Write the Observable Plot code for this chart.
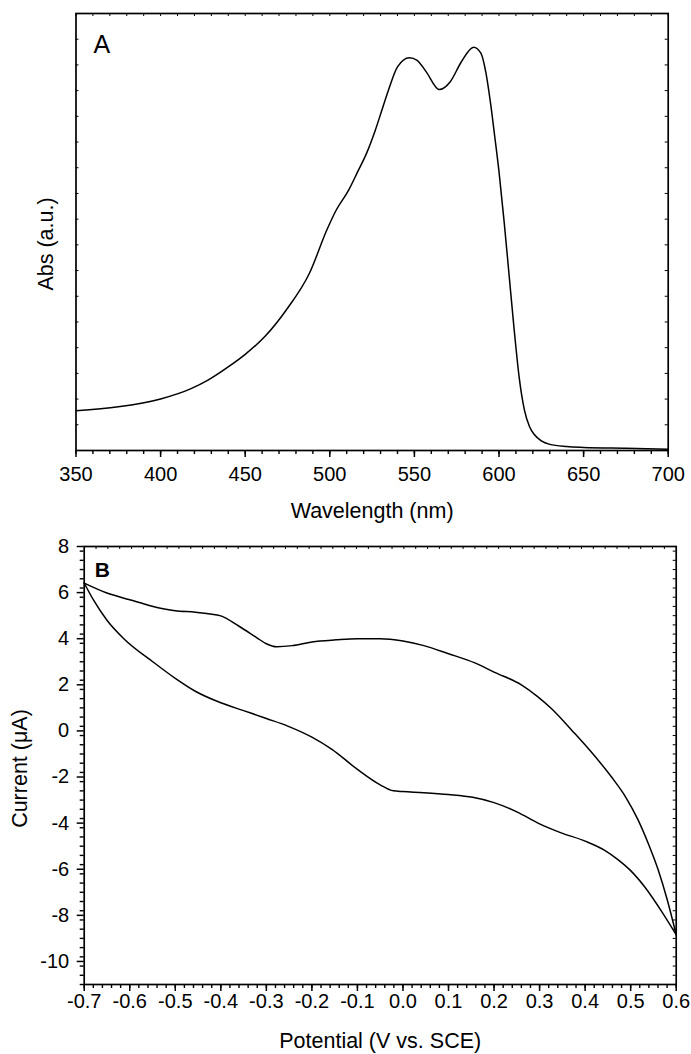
<!DOCTYPE html>
<html><head><meta charset="utf-8">
<script src="https://cdn.jsdelivr.net/npm/d3@7"></script>
<script src="https://cdn.jsdelivr.net/npm/@observablehq/plot@0.6"></script>
<style>
body{margin:0;background:#fff;}
#wrap{position:relative;width:691px;height:1054px;overflow:hidden;}
#wrap svg{position:absolute;left:0;overflow:visible;background:transparent;}
</style></head><body><div id="wrap"></div>
<script>
// Panel A: absorption spectrum
const wavelength = [350,375,400,417.7,428,441,450,461.9,474.9,487.9,498.3,503.5,511.3,516.5,521.7,526.9,530.8,534.7,540,547,551.6,556.9,564.7,571.2,577.7,585,589.2,592.2,595.1,597.5,600,603,606,609,612,615,618,621,625,630,640,650,675,700];
const absorbance = [0.091,0.100,0.118,0.141,0.161,0.194,0.220,0.262,0.325,0.405,0.505,0.548,0.597,0.638,0.680,0.733,0.779,0.825,0.878,0.899,0.893,0.867,0.826,0.844,0.889,0.923,0.910,0.866,0.792,0.718,0.638,0.525,0.40,0.275,0.165,0.093,0.055,0.036,0.022,0.014,0.009,0.007,0.005,0.003];
const wavelengthTicks = [350,400,450,500,550,600,650,700];

// Panel B: cyclic voltammogram
const potentialUpper = [-0.7,-0.65,-0.6,-0.553,-0.5,-0.456,-0.427,-0.4,-0.36,-0.32,-0.3,-0.277,-0.243,-0.2,-0.147,-0.1,-0.05,0.0,0.046,0.1,0.158,0.2,0.26,0.295,0.327,0.372,0.415,0.458,0.49,0.516,0.54,0.56,0.58,0.6];
const currentUpper = [6.41,5.98,5.69,5.42,5.21,5.15,5.08,4.99,4.54,4.03,3.78,3.65,3.70,3.86,3.95,4.00,4.00,3.90,3.70,3.35,2.95,2.55,2.0,1.5,0.95,0.0,-0.95,-2.0,-2.9,-3.85,-4.95,-6.0,-7.3,-8.84];
const potentialLower = [-0.7,-0.679,-0.65,-0.613,-0.548,-0.5,-0.456,-0.4,-0.35,-0.3,-0.253,-0.2,-0.156,-0.1,-0.05,-0.021,0.0,0.046,0.1,0.153,0.2,0.25,0.3,0.346,0.4,0.443,0.472,0.5,0.531,0.57,0.6];
const currentLower = [6.41,5.66,4.80,4.0,2.98,2.28,1.72,1.22,0.88,0.54,0.21,-0.27,-0.80,-1.67,-2.34,-2.60,-2.63,-2.68,-2.76,-2.88,-3.11,-3.51,-4.03,-4.41,-4.78,-5.18,-5.58,-6.06,-6.77,-7.89,-8.84];
const potentialTicks = [-0.7,-0.6,-0.5,-0.4,-0.3,-0.2,-0.1,0.0,0.1,0.2,0.3,0.4,0.5,0.6];
const potentialTickLabels = ["-0.7","-0.6","-0.5","-0.4","-0.3","-0.2","-0.1","0.0","0.1","0.2","0.3","0.4","0.5","0.6"];
const currentTicks = [-10,-8,-6,-4,-2,0,2,4,6,8];
const currentTickLabels = ["-10","-8","-6","-4","-2","0","2","4","6","8"];

const FONT = "'Liberation Sans', Arial, Helvetica, sans-serif";
const spectrum = wavelength.map((w, i) => ({wl: w, abs: absorbance[i]}));
const cv = [
  ...potentialUpper.map((p, i) => ({E: p, I: currentUpper[i], branch: "upper"})),
  ...potentialLower.map((p, i) => ({E: p, I: currentLower[i], branch: "lower"}))
];

// Panel A geometry
const A = {w: 691, h: 540, ml: 75.5, mr: 23.3, mt: 13, mb: 90};
const aPlotH = A.h - A.mt - A.mb, aPlotW = A.w - A.ml - A.mr;
const minorA = d3.range(350, 701, 10);
const sideA = d3.range(1, 17).map(i => i / 17);

const plotA = Plot.plot({
  width: A.w, height: A.h,
  marginLeft: A.ml, marginRight: A.mr, marginTop: A.mt, marginBottom: A.mb,
  style: {fontFamily: FONT, fontSize: "20px", color: "#000", background: "transparent", overflow: "visible"},
  x: {domain: [350, 700]},
  y: {domain: [0, 1], axis: null},
  marks: [
    Plot.ruleX(minorA, {x: d => d, insetBottom: aPlotH - 3, stroke: "#000", strokeWidth: 1}),
    Plot.ruleY(sideA, {y: d => d, insetRight: aPlotW - 3, stroke: "#000", strokeWidth: 1}),
    Plot.ruleY(sideA, {y: d => d, insetLeft: aPlotW - 3, stroke: "#000", strokeWidth: 1}),
    Plot.axisX(minorA, {tickSize: 4, tickFormat: () => "", label: null, strokeWidth: 1.4}),
    Plot.axisX(wavelengthTicks, {tickSize: 7, tickPadding: 9, tickFormat: d => String(d), label: null, fontSize: 20, strokeWidth: 1.5}),
    Plot.frame({stroke: "#000", strokeWidth: 1.7}),
    Plot.line(spectrum, {x: "wl", y: "abs", curve: "monotone-x", stroke: "#000", strokeWidth: 1.5}),
    Plot.text(["A"], {text: d => d, frameAnchor: "top-left", dx: 17.5, dy: 22, lineAnchor: "top", textAnchor: "start", fontSize: 25, fill: "#000"}),
    Plot.text(["Wavelength (nm)"], {text: d => d, frameAnchor: "bottom", dy: 60.6, lineAnchor: "middle", textAnchor: "middle", fontSize: 21.5, fill: "#000"}),
    Plot.text(["Abs (a.u.)"], {text: d => d, frameAnchor: "left", dx: -29.5, dy: 12, rotate: -90, lineAnchor: "middle", textAnchor: "middle", fontSize: 21.5, fill: "#000"})
  ]
});

// Panel B geometry
const B = {w: 691, h: 554, ml: 83.7, mr: 15.3, mt: 46, mb: 70};
const bPlotH = B.h - B.mt - B.mb, bPlotW = B.w - B.ml - B.mr;
const minorBx = d3.range(0, 66).map(i => -0.7 + i * 0.02);
const minorBy = d3.range(0, 48).map(i => -11 + i * 0.4);
const topBx = d3.range(1, 50).map(i => -0.7 + i * 1.3 / 50);

const plotB = Plot.plot({
  width: B.w, height: B.h,
  marginLeft: B.ml, marginRight: B.mr, marginTop: B.mt, marginBottom: B.mb,
  style: {fontFamily: FONT, fontSize: "20px", color: "#000", background: "transparent", overflow: "visible"},
  x: {domain: [-0.7, 0.6]},
  y: {domain: [-11, 8]},
  marks: [
    Plot.ruleX(topBx, {x: d => d, insetBottom: bPlotH - 3, stroke: "#000", strokeWidth: 1}),
    Plot.ruleY(minorBy, {y: d => d, insetLeft: bPlotW - 3, stroke: "#000", strokeWidth: 1}),
    Plot.axisX(minorBx, {tickSize: 4, tickFormat: () => "", label: null, strokeWidth: 1.4}),
    Plot.axisX(potentialTicks, {tickSize: 7, tickPadding: 2, tickFormat: (d, i) => potentialTickLabels[i], label: null, fontSize: 20, strokeWidth: 1.5}),
    Plot.axisY(minorBy, {tickSize: 4, tickFormat: () => "", label: null, strokeWidth: 1.4}),
    Plot.axisY(currentTicks, {tickSize: 7, tickPadding: 8, tickFormat: (d, i) => currentTickLabels[i], label: null, fontSize: 20, strokeWidth: 1.5}),
    Plot.frame({stroke: "#000", strokeWidth: 1.7}),
    Plot.line(cv, {x: "E", y: "I", z: "branch", curve: "monotone-x", stroke: "#000", strokeWidth: 1.5}),
    Plot.text(["B"], {text: d => d, frameAnchor: "top-left", dx: 10.6, dy: 15.7, lineAnchor: "top", textAnchor: "start", fontSize: 21, fontWeight: "bold", fill: "#000"}),
    Plot.text(["Potential (V vs. SCE)"], {text: d => d, frameAnchor: "bottom", dy: 57, lineAnchor: "middle", textAnchor: "middle", fontSize: 21.5, fill: "#000"}),
    Plot.text(["Current (\u03bcA)"], {text: d => d, frameAnchor: "left", dx: -64.4, dy: 3, rotate: -90, lineAnchor: "middle", textAnchor: "middle", fontSize: 21.5, fill: "#000"})
  ]
});

const wrap = document.getElementById("wrap");
plotA.style.top = "0px";
plotB.style.top = "500px";
wrap.appendChild(plotA);
wrap.appendChild(plotB);
</script>
</body></html>
